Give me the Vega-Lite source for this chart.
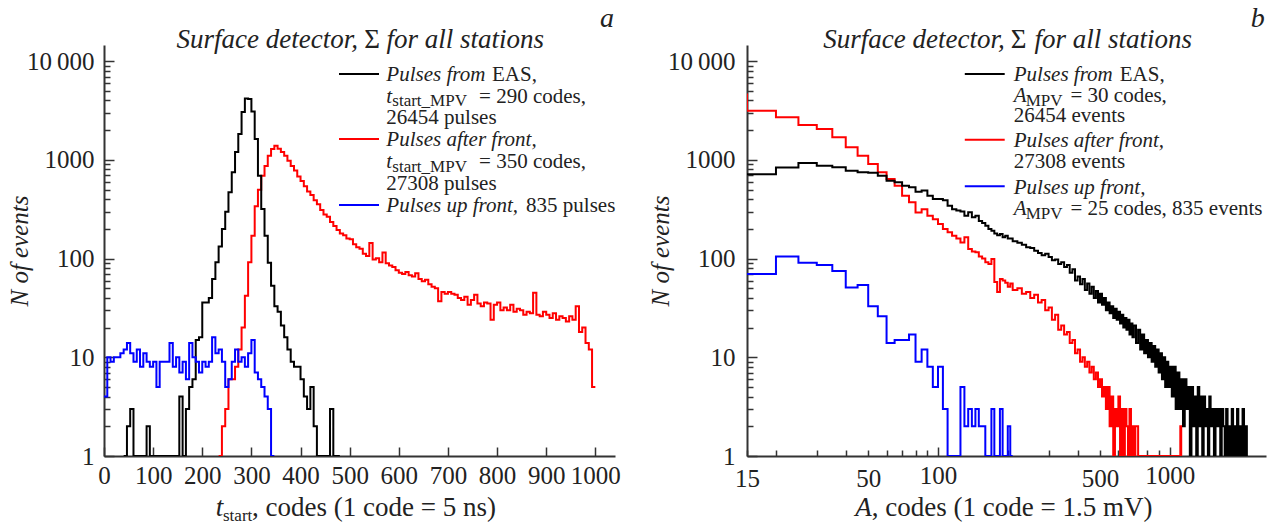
{
"$schema": "https://vega.github.io/schema/vega-lite/v6.json",
"background": "white",
"padding": {"left": 7, "top": 5, "right": 5, "bottom": 0},
"spacing": 27,
"config": {
  "view": {"stroke": null},
  "font": "'Liberation Serif', 'Times New Roman', 'DejaVu Serif', serif",
  "text": {"font": "'Liberation Serif', 'Times New Roman', 'DejaVu Serif', serif", "color": "#222", "align": "left", "baseline": "alphabetic", "fontSize": 21},
  "axis": {"domainColor": "#333", "domainWidth": 2, "tickColor": "#333", "tickWidth": 1.5, "labelFont": "'Liberation Serif', 'Times New Roman', 'DejaVu Serif', serif", "labelFontSize": 25, "labelColor": "#222", "grid": false, "labelFlush": false, "labelOverlap": false, "labelBound": false, "titleFont": "'Liberation Serif', 'Times New Roman', 'DejaVu Serif', serif", "titleFontSize": 25, "titleFontWeight": "normal", "titleFontStyle": "italic", "titleColor": "#222"}
},
"datasets": {
"L": [
{"s":"after","x":233.3,"n":1},{"s":"after","x":240,"n":2},{"s":"after","x":246.7,"n":3},{"s":"after","x":253.3,"n":6},{"s":"after","x":260,"n":6},{"s":"after","x":266.7,"n":8},{"s":"after","x":273.3,"n":12},{"s":"after","x":280,"n":20},{"s":"after","x":286.7,"n":42},{"s":"after","x":293.3,"n":92},{"s":"after","x":300,"n":170},{"s":"after","x":306.7,"n":340},{"s":"after","x":313.3,"n":500},{"s":"after","x":320,"n":690},{"s":"after","x":326.7,"n":870},{"s":"after","x":333.3,"n":1100},{"s":"after","x":340,"n":1290},{"s":"after","x":346.7,"n":1390},{"s":"after","x":353.3,"n":1300},{"s":"after","x":360,"n":1200},{"s":"after","x":366.7,"n":1100},{"s":"after","x":373.3,"n":980},{"s":"after","x":380,"n":870},{"s":"after","x":386.7,"n":780},{"s":"after","x":393.3,"n":680},{"s":"after","x":400,"n":610},{"s":"after","x":406.7,"n":540},{"s":"after","x":413.3,"n":480},{"s":"after","x":420,"n":440},{"s":"after","x":426.7,"n":390},{"s":"after","x":433.3,"n":355},{"s":"after","x":440,"n":310},{"s":"after","x":446.7,"n":280},{"s":"after","x":453.3,"n":265},{"s":"after","x":460,"n":235},{"s":"after","x":466.7,"n":214},{"s":"after","x":473.3,"n":195},{"s":"after","x":480,"n":180},{"s":"after","x":486.7,"n":172},{"s":"after","x":493.3,"n":160},{"s":"after","x":500,"n":157},{"s":"after","x":506.7,"n":140},{"s":"after","x":513.3,"n":130},{"s":"after","x":520,"n":126},{"s":"after","x":526.7,"n":112},{"s":"after","x":533.3,"n":106},{"s":"after","x":540,"n":144},{"s":"after","x":546.7,"n":98},{"s":"after","x":553.3,"n":101},{"s":"after","x":560,"n":92},{"s":"after","x":566.7,"n":115},{"s":"after","x":573.3,"n":90},{"s":"after","x":580,"n":85},{"s":"after","x":586.7,"n":82},{"s":"after","x":593.3,"n":76},{"s":"after","x":600,"n":72},{"s":"after","x":606.7,"n":70},{"s":"after","x":613.3,"n":73},{"s":"after","x":620,"n":68},{"s":"after","x":626.7,"n":66},{"s":"after","x":633.3,"n":71},{"s":"after","x":640,"n":62},{"s":"after","x":646.7,"n":59},{"s":"after","x":653.3,"n":61},{"s":"after","x":660,"n":55},{"s":"after","x":666.7,"n":52},{"s":"after","x":673.3,"n":50},{"s":"after","x":680,"n":37},{"s":"after","x":686.7,"n":46},{"s":"after","x":693.3,"n":44},{"s":"after","x":700,"n":46},{"s":"after","x":706.7,"n":44},{"s":"after","x":713.3,"n":43},{"s":"after","x":720,"n":40},{"s":"after","x":726.7,"n":38},{"s":"after","x":733.3,"n":41},{"s":"after","x":740,"n":34},{"s":"after","x":746.7,"n":38},{"s":"after","x":753.3,"n":43},{"s":"after","x":760,"n":35},{"s":"after","x":766.7,"n":33},{"s":"after","x":773.3,"n":36},{"s":"after","x":780,"n":35},{"s":"after","x":786.7,"n":24},{"s":"after","x":793.3,"n":34},{"s":"after","x":800,"n":36},{"s":"after","x":806.7,"n":30},{"s":"after","x":813.3,"n":32},{"s":"after","x":820,"n":30},{"s":"after","x":826.7,"n":34},{"s":"after","x":833.3,"n":29},{"s":"after","x":840,"n":31},{"s":"after","x":846.7,"n":30},{"s":"after","x":853.3,"n":27},{"s":"after","x":860,"n":29},{"s":"after","x":866.7,"n":28},{"s":"after","x":873.3,"n":45},{"s":"after","x":880,"n":27},{"s":"after","x":886.7,"n":26},{"s":"after","x":893.3,"n":29},{"s":"after","x":900,"n":27},{"s":"after","x":906.7,"n":25},{"s":"after","x":913.3,"n":28},{"s":"after","x":920,"n":24},{"s":"after","x":926.7,"n":26},{"s":"after","x":933.3,"n":25},{"s":"after","x":940,"n":23},{"s":"after","x":946.7,"n":26},{"s":"after","x":953.3,"n":24},{"s":"after","x":960,"n":33},{"s":"after","x":966.7,"n":18},{"s":"after","x":973.3,"n":20},{"s":"after","x":980,"n":14},{"s":"after","x":986.7,"n":12},{"s":"after","x":993.3,"n":5},{"s":"after","x":1000,"n":5},
{"s":"EAS","x":40,"n":1},{"s":"EAS","x":46.7,"n":2},{"s":"EAS","x":53.3,"n":3},{"s":"EAS","x":60,"n":1},{"s":"EAS","x":80,"n":1},{"s":"EAS","x":86.7,"n":2},{"s":"EAS","x":93.3,"n":1},{"s":"EAS","x":146.7,"n":1},{"s":"EAS","x":153.3,"n":4},{"s":"EAS","x":160,"n":1},{"s":"EAS","x":166.7,"n":3},{"s":"EAS","x":173.3,"n":5},{"s":"EAS","x":180,"n":6},{"s":"EAS","x":186.7,"n":15},{"s":"EAS","x":193.3,"n":16},{"s":"EAS","x":200,"n":36},{"s":"EAS","x":206.7,"n":36},{"s":"EAS","x":213.3,"n":40},{"s":"EAS","x":220,"n":62},{"s":"EAS","x":226.7,"n":92},{"s":"EAS","x":233.3,"n":133},{"s":"EAS","x":240,"n":200},{"s":"EAS","x":246.7,"n":298},{"s":"EAS","x":253.3,"n":470},{"s":"EAS","x":260,"n":750},{"s":"EAS","x":266.7,"n":1200},{"s":"EAS","x":273.3,"n":1830},{"s":"EAS","x":280,"n":3050},{"s":"EAS","x":286.7,"n":4200},{"s":"EAS","x":293.3,"n":4150},{"s":"EAS","x":300,"n":3100},{"s":"EAS","x":306.7,"n":1630},{"s":"EAS","x":313.3,"n":690},{"s":"EAS","x":320,"n":318},{"s":"EAS","x":326.7,"n":170},{"s":"EAS","x":333.3,"n":91},{"s":"EAS","x":340,"n":53},{"s":"EAS","x":346.7,"n":33},{"s":"EAS","x":353.3,"n":29},{"s":"EAS","x":360,"n":21},{"s":"EAS","x":366.7,"n":16},{"s":"EAS","x":373.3,"n":12},{"s":"EAS","x":380,"n":9},{"s":"EAS","x":386.7,"n":8},{"s":"EAS","x":393.3,"n":8},{"s":"EAS","x":400,"n":6},{"s":"EAS","x":406.7,"n":4},{"s":"EAS","x":413.3,"n":3},{"s":"EAS","x":420,"n":5},{"s":"EAS","x":426.7,"n":2},{"s":"EAS","x":433.3,"n":1},{"s":"EAS","x":460,"n":3},{"s":"EAS","x":466.7,"n":1},{"s":"EAS","x":480,"n":1},
{"s":"up","x":0,"n":4},{"s":"up","x":6.7,"n":10},{"s":"up","x":13.3,"n":9},{"s":"up","x":20,"n":10},{"s":"up","x":26.7,"n":10},{"s":"up","x":33.3,"n":11},{"s":"up","x":40,"n":12},{"s":"up","x":46.7,"n":14},{"s":"up","x":53.3,"n":11},{"s":"up","x":60,"n":9},{"s":"up","x":66.7,"n":12},{"s":"up","x":73.3,"n":8},{"s":"up","x":80,"n":11},{"s":"up","x":86.7,"n":9},{"s":"up","x":93.3,"n":8},{"s":"up","x":100,"n":9},{"s":"up","x":106.7,"n":5},{"s":"up","x":113.3,"n":9},{"s":"up","x":120,"n":9},{"s":"up","x":126.7,"n":9},{"s":"up","x":133.3,"n":14},{"s":"up","x":140,"n":8},{"s":"up","x":146.7,"n":10},{"s":"up","x":153.3,"n":7},{"s":"up","x":160,"n":9},{"s":"up","x":166.7,"n":6},{"s":"up","x":173.3,"n":14},{"s":"up","x":180,"n":10},{"s":"up","x":186.7,"n":9},{"s":"up","x":193.3,"n":7},{"s":"up","x":200,"n":9},{"s":"up","x":206.7,"n":8},{"s":"up","x":213.3,"n":9},{"s":"up","x":220,"n":16},{"s":"up","x":226.7,"n":11},{"s":"up","x":233.3,"n":12},{"s":"up","x":240,"n":9},{"s":"up","x":246.7,"n":5},{"s":"up","x":253.3,"n":6},{"s":"up","x":260,"n":9},{"s":"up","x":266.7,"n":12},{"s":"up","x":273.3,"n":9},{"s":"up","x":280,"n":10},{"s":"up","x":286.7,"n":8},{"s":"up","x":293.3,"n":11},{"s":"up","x":300,"n":15},{"s":"up","x":306.7,"n":7},{"s":"up","x":313.3,"n":6},{"s":"up","x":320,"n":5},{"s":"up","x":326.7,"n":4},{"s":"up","x":333.3,"n":3},{"s":"up","x":340,"n":1},{"s":"up","x":346.7,"n":1}
],
"R": [
{"s":"after","x":10,"n":4600},{"s":"after","x":15,"n":3150},{"s":"after","x":20,"n":2700},{"s":"after","x":25,"n":2260},{"s":"after","x":30,"n":2055},{"s":"after","x":35,"n":1694},{"s":"after","x":40,"n":1342},{"s":"after","x":45,"n":1105},{"s":"after","x":50,"n":908},{"s":"after","x":55,"n":748},{"s":"after","x":60,"n":640},{"s":"after","x":65,"n":548},{"s":"after","x":70,"n":434},{"s":"after","x":75,"n":372},{"s":"after","x":80,"n":294},{"s":"after","x":85,"n":317},{"s":"after","x":90,"n":272},{"s":"after","x":95,"n":250},{"s":"after","x":100,"n":224},{"s":"after","x":105,"n":199},{"s":"after","x":110,"n":185},{"s":"after","x":115,"n":170},{"s":"after","x":120,"n":160},{"s":"after","x":125,"n":146},{"s":"after","x":130,"n":165},{"s":"after","x":135,"n":125},{"s":"after","x":140,"n":118},{"s":"after","x":145,"n":116},{"s":"after","x":150,"n":105},{"s":"after","x":155,"n":100},{"s":"after","x":160,"n":92},{"s":"after","x":165,"n":88},{"s":"after","x":170,"n":99},{"s":"after","x":175,"n":58},{"s":"after","x":180,"n":46},{"s":"after","x":185,"n":62},{"s":"after","x":190,"n":60},{"s":"after","x":195,"n":57},{"s":"after","x":200,"n":52},{"s":"after","x":205,"n":56},{"s":"after","x":210,"n":48},{"s":"after","x":220,"n":50},{"s":"after","x":230,"n":44},{"s":"after","x":240,"n":46},{"s":"after","x":250,"n":40},{"s":"after","x":260,"n":43},{"s":"after","x":270,"n":36},{"s":"after","x":280,"n":38},{"s":"after","x":290,"n":30},{"s":"after","x":300,"n":32},{"s":"after","x":310,"n":24},{"s":"after","x":320,"n":27},{"s":"after","x":330,"n":19},{"s":"after","x":340,"n":21},{"s":"after","x":350,"n":17},{"s":"after","x":360,"n":18},{"s":"after","x":370,"n":14},{"s":"after","x":380,"n":15},{"s":"after","x":390,"n":11},{"s":"after","x":400,"n":12},{"s":"after","x":410,"n":9},{"s":"after","x":420,"n":10},{"s":"after","x":430,"n":8},{"s":"after","x":440,"n":9},{"s":"after","x":450,"n":7},{"s":"after","x":460,"n":8},{"s":"after","x":470,"n":6},{"s":"after","x":480,"n":7},{"s":"after","x":490,"n":5},{"s":"after","x":500,"n":6},{"s":"after","x":510,"n":4},{"s":"after","x":520,"n":5},{"s":"after","x":530,"n":3},{"s":"after","x":540,"n":5},{"s":"after","x":550,"n":2},{"s":"after","x":560,"n":4},{"s":"after","x":570,"n":1},{"s":"after","x":580,"n":3},{"s":"after","x":590,"n":2},{"s":"after","x":600,"n":4},{"s":"after","x":610,"n":1},{"s":"after","x":620,"n":3},{"s":"after","x":630,"n":1},{"s":"after","x":640,"n":3},{"s":"after","x":650,"n":2},{"s":"after","x":660,"n":1},{"s":"after","x":670,"n":3},{"s":"after","x":680,"n":1},{"s":"after","x":690,"n":2},{"s":"after","x":700,"n":1},{"s":"after","x":710,"n":2},{"s":"after","x":720,"n":2},{"s":"after","x":730,"n":1},{"s":"after","x":1110,"n":2},{"s":"after","x":1120,"n":1},
{"s":"EAS","x":15,"n":716},{"s":"EAS","x":20,"n":837},{"s":"EAS","x":25,"n":930},{"s":"EAS","x":30,"n":873},{"s":"EAS","x":35,"n":841},{"s":"EAS","x":40,"n":778},{"s":"EAS","x":45,"n":749},{"s":"EAS","x":50,"n":740},{"s":"EAS","x":55,"n":692},{"s":"EAS","x":60,"n":615},{"s":"EAS","x":65,"n":593},{"s":"EAS","x":70,"n":548},{"s":"EAS","x":75,"n":528},{"s":"EAS","x":80,"n":476},{"s":"EAS","x":85,"n":490},{"s":"EAS","x":90,"n":434},{"s":"EAS","x":95,"n":402},{"s":"EAS","x":100,"n":402},{"s":"EAS","x":105,"n":390},{"s":"EAS","x":110,"n":343},{"s":"EAS","x":115,"n":317},{"s":"EAS","x":120,"n":307},{"s":"EAS","x":125,"n":300},{"s":"EAS","x":130,"n":272},{"s":"EAS","x":135,"n":295},{"s":"EAS","x":140,"n":262},{"s":"EAS","x":145,"n":272},{"s":"EAS","x":150,"n":240},{"s":"EAS","x":155,"n":230},{"s":"EAS","x":160,"n":215},{"s":"EAS","x":165,"n":200},{"s":"EAS","x":170,"n":191},{"s":"EAS","x":175,"n":180},{"s":"EAS","x":180,"n":172},{"s":"EAS","x":185,"n":178},{"s":"EAS","x":190,"n":165},{"s":"EAS","x":195,"n":170},{"s":"EAS","x":200,"n":160},{"s":"EAS","x":210,"n":150},{"s":"EAS","x":220,"n":145},{"s":"EAS","x":230,"n":138},{"s":"EAS","x":240,"n":130},{"s":"EAS","x":250,"n":128},{"s":"EAS","x":260,"n":120},{"s":"EAS","x":270,"n":114},{"s":"EAS","x":280,"n":108},{"s":"EAS","x":290,"n":112},{"s":"EAS","x":300,"n":104},{"s":"EAS","x":310,"n":96},{"s":"EAS","x":320,"n":98},{"s":"EAS","x":330,"n":88},{"s":"EAS","x":340,"n":92},{"s":"EAS","x":350,"n":82},{"s":"EAS","x":360,"n":86},{"s":"EAS","x":370,"n":72},{"s":"EAS","x":380,"n":78},{"s":"EAS","x":390,"n":60},{"s":"EAS","x":400,"n":66},{"s":"EAS","x":410,"n":55},{"s":"EAS","x":420,"n":62},{"s":"EAS","x":430,"n":48},{"s":"EAS","x":440,"n":56},{"s":"EAS","x":450,"n":44},{"s":"EAS","x":460,"n":52},{"s":"EAS","x":470,"n":40},{"s":"EAS","x":480,"n":47},{"s":"EAS","x":490,"n":36},{"s":"EAS","x":500,"n":44},{"s":"EAS","x":510,"n":34},{"s":"EAS","x":520,"n":40},{"s":"EAS","x":530,"n":30},{"s":"EAS","x":540,"n":36},{"s":"EAS","x":550,"n":28},{"s":"EAS","x":560,"n":33},{"s":"EAS","x":570,"n":25},{"s":"EAS","x":580,"n":31},{"s":"EAS","x":590,"n":24},{"s":"EAS","x":600,"n":29},{"s":"EAS","x":610,"n":22},{"s":"EAS","x":620,"n":27},{"s":"EAS","x":630,"n":20},{"s":"EAS","x":640,"n":25},{"s":"EAS","x":650,"n":19},{"s":"EAS","x":660,"n":24},{"s":"EAS","x":670,"n":17},{"s":"EAS","x":680,"n":22},{"s":"EAS","x":690,"n":16},{"s":"EAS","x":700,"n":21},{"s":"EAS","x":715,"n":14},{"s":"EAS","x":730,"n":19},{"s":"EAS","x":745,"n":12},{"s":"EAS","x":760,"n":17},{"s":"EAS","x":775,"n":11},{"s":"EAS","x":790,"n":15},{"s":"EAS","x":805,"n":10},{"s":"EAS","x":820,"n":14},{"s":"EAS","x":835,"n":9},{"s":"EAS","x":850,"n":13},{"s":"EAS","x":865,"n":8},{"s":"EAS","x":880,"n":12},{"s":"EAS","x":895,"n":7},{"s":"EAS","x":910,"n":11},{"s":"EAS","x":925,"n":6},{"s":"EAS","x":940,"n":10},{"s":"EAS","x":955,"n":5},{"s":"EAS","x":970,"n":9},{"s":"EAS","x":985,"n":5},{"s":"EAS","x":1000,"n":8},{"s":"EAS","x":1020,"n":4},{"s":"EAS","x":1040,"n":8},{"s":"EAS","x":1060,"n":3},{"s":"EAS","x":1080,"n":7},{"s":"EAS","x":1100,"n":3},{"s":"EAS","x":1120,"n":6},{"s":"EAS","x":1140,"n":2},{"s":"EAS","x":1160,"n":6},{"s":"EAS","x":1180,"n":3},{"s":"EAS","x":1200,"n":5},{"s":"EAS","x":1220,"n":1},{"s":"EAS","x":1240,"n":5},{"s":"EAS","x":1260,"n":2},{"s":"EAS","x":1280,"n":4},{"s":"EAS","x":1300,"n":1},{"s":"EAS","x":1320,"n":5},{"s":"EAS","x":1340,"n":2},{"s":"EAS","x":1360,"n":4},{"s":"EAS","x":1380,"n":1},{"s":"EAS","x":1400,"n":4},{"s":"EAS","x":1420,"n":2},{"s":"EAS","x":1440,"n":3},{"s":"EAS","x":1460,"n":1},{"s":"EAS","x":1480,"n":4},{"s":"EAS","x":1500,"n":2},{"s":"EAS","x":1525,"n":3},{"s":"EAS","x":1550,"n":1},{"s":"EAS","x":1575,"n":3},{"s":"EAS","x":1600,"n":2},{"s":"EAS","x":1625,"n":3},{"s":"EAS","x":1650,"n":1},{"s":"EAS","x":1675,"n":3},{"s":"EAS","x":1700,"n":2},{"s":"EAS","x":1725,"n":1},{"s":"EAS","x":1750,"n":3},{"s":"EAS","x":1775,"n":1},{"s":"EAS","x":1800,"n":2},{"s":"EAS","x":1825,"n":1},{"s":"EAS","x":1850,"n":3},{"s":"EAS","x":1875,"n":1},{"s":"EAS","x":1900,"n":2},{"s":"EAS","x":1925,"n":1},{"s":"EAS","x":1950,"n":3},{"s":"EAS","x":1975,"n":1},{"s":"EAS","x":2000,"n":2},{"s":"EAS","x":2030,"n":1},{"s":"EAS","x":2060,"n":3},{"s":"EAS","x":2090,"n":1},{"s":"EAS","x":2120,"n":2},{"s":"EAS","x":2150,"n":1},
{"s":"up","x":15,"n":70},{"s":"up","x":20,"n":105},{"s":"up","x":25,"n":91},{"s":"up","x":30,"n":86},{"s":"up","x":35,"n":75},{"s":"up","x":40,"n":51},{"s":"up","x":45,"n":54},{"s":"up","x":50,"n":33},{"s":"up","x":55,"n":26},{"s":"up","x":60,"n":14},{"s":"up","x":65,"n":15},{"s":"up","x":70,"n":15},{"s":"up","x":75,"n":17},{"s":"up","x":80,"n":9},{"s":"up","x":85,"n":12},{"s":"up","x":90,"n":8},{"s":"up","x":95,"n":5},{"s":"up","x":100,"n":8},{"s":"up","x":105,"n":3},{"s":"up","x":110,"n":1},{"s":"up","x":120,"n":1},{"s":"up","x":125,"n":5},{"s":"up","x":130,"n":2},{"s":"up","x":135,"n":3},{"s":"up","x":140,"n":2},{"s":"up","x":145,"n":3},{"s":"up","x":150,"n":2},{"s":"up","x":155,"n":2},{"s":"up","x":160,"n":1},{"s":"up","x":165,"n":1},{"s":"up","x":170,"n":3},{"s":"up","x":175,"n":1},{"s":"up","x":180,"n":1},{"s":"up","x":185,"n":3},{"s":"up","x":190,"n":1},{"s":"up","x":195,"n":1},{"s":"up","x":200,"n":2},{"s":"up","x":205,"n":1},{"s":"up","x":210,"n":1}
]
},
"hconcat": [
{
 "width": 511, "height": 411,
 "layer": [
  {"data": {"name": "L"},
   "mark": {"type": "line", "interpolate": "step-after", "strokeWidth": 2, "clip": true},
   "encoding": {
    "x": {"field": "x", "type": "quantitative", "scale": {"domain": [0, 1040], "nice": false, "zero": false},
          "axis": {"values": [0,50,100,150,200,250,300,350,400,450,500,550,600,650,700,750,800,850,900,950,1000], "labelExpr": "datum.value % 100 == 0 ? format(datum.value, 'd') : ''", "tickSize": {"condition": {"test": "datum.value % 100 == 0", "value": -9}, "value": -6}, "labelPadding": 16, "title": null}},
    "y": {"field": "n", "type": "quantitative", "scale": {"type": "log", "domain": [1, 14600], "nice": false},
          "axis": {"values": [1,2,3,4,5,6,7,8,9,10,20,30,40,50,60,70,80,90,100,200,300,400,500,600,700,800,900,1000,2000,3000,4000,5000,6000,7000,8000,9000,10000], "labelExpr": "datum.value == 10000 ? '10\u2009000' : (indexof([1,10,100,1000], datum.value) >= 0 ? format(datum.value, 'd') : '')", "tickSize": {"condition": {"test": "indexof([1,10,100,1000,10000], datum.value) >= 0", "value": -10}, "value": -6}, "labelPadding": 20, "title": "N of events", "titlePadding": -6}},
    "color": {"field": "s", "type": "nominal", "scale": {"domain": ["EAS", "after", "up"], "range": ["#000000", "#ff0000", "#0000ff"]}, "legend": null}
   }},
  {"data": {"values": [{}]}, "mark": {"type": "text", "text": "Surface detector,", "fontSize": 27, "fontStyle": "italic", "align": "right"}, "encoding": {"x": {"datum": 517}, "y": {"datum": 13604}}},
  {"data": {"values": [{}]}, "mark": {"type": "text", "text": "Σ", "fontSize": 27, "align": "center"}, "encoding": {"x": {"datum": 545.5}, "y": {"datum": 13604}}},
  {"data": {"values": [{}]}, "mark": {"type": "text", "text": "for all stations", "fontSize": 27, "fontStyle": "italic"}, "encoding": {"x": {"datum": 575}, "y": {"datum": 13604}}},
  {"data": {"values": [{}]}, "mark": {"type": "text", "text": "a", "fontSize": 28, "fontStyle": "italic", "align": "center"}, "encoding": {"x": {"datum": 1023.8}, "y": {"datum": 22210}}},
  {"data": {"values": [{}]}, "mark": {"type": "rule", "color": "#000000", "strokeWidth": 2}, "encoding": {"x": {"datum": 478.3}, "x2": {"datum": 559.7}, "y": {"datum": 7419}}},
  {"data": {"values": [{}]}, "mark": {"type": "rule", "color": "#ff0000", "strokeWidth": 2}, "encoding": {"x": {"datum": 478.3}, "x2": {"datum": 559.7}, "y": {"datum": 1628}}},
  {"data": {"values": [{}]}, "mark": {"type": "rule", "color": "#0000ff", "strokeWidth": 2}, "encoding": {"x": {"datum": 478.3}, "x2": {"datum": 559.7}, "y": {"datum": 349}}},
  {"data": {"values": [{}]}, "mark": {"type": "text", "text": "Pulses from", "fontStyle": "italic"}, "encoding": {"x": {"datum": 574.6}, "y": {"datum": 6301}}},
  {"data": {"values": [{}]}, "mark": {"type": "text", "text": "EAS,"}, "encoding": {"x": {"datum": 789.7}, "y": {"datum": 6301}}},
  {"data": {"values": [{}]}, "mark": {"type": "text", "text": "t", "fontStyle": "italic"}, "encoding": {"x": {"datum": 574.6}, "y": {"datum": 3815}}},
  {"data": {"values": [{}]}, "mark": {"type": "text", "text": "start_MPV", "fontSize": 17}, "encoding": {"x": {"datum": 586.8}, "y": {"datum": 3516}}},
  {"data": {"values": [{}]}, "mark": {"type": "text", "text": "= 290 codes,"}, "encoding": {"x": {"datum": 763.3}, "y": {"datum": 3815}}},
  {"data": {"values": [{}]}, "mark": {"type": "text", "text": "26454 pulses"}, "encoding": {"x": {"datum": 574.6}, "y": {"datum": 2311}}},
  {"data": {"values": [{}]}, "mark": {"type": "text", "text": "Pulses after front,", "fontStyle": "italic"}, "encoding": {"x": {"datum": 574.6}, "y": {"datum": 1383}}},
  {"data": {"values": [{}]}, "mark": {"type": "text", "text": "t", "fontStyle": "italic"}, "encoding": {"x": {"datum": 574.6}, "y": {"datum": 828}}},
  {"data": {"values": [{}]}, "mark": {"type": "text", "text": "start_MPV", "fontSize": 17}, "encoding": {"x": {"datum": 586.8}, "y": {"datum": 763}}},
  {"data": {"values": [{}]}, "mark": {"type": "text", "text": "= 350 codes,"}, "encoding": {"x": {"datum": 763.3}, "y": {"datum": 828}}},
  {"data": {"values": [{}]}, "mark": {"type": "text", "text": "27308 pulses"}, "encoding": {"x": {"datum": 574.6}, "y": {"datum": 495.5}}},
  {"data": {"values": [{}]}, "mark": {"type": "text", "text": "Pulses up front,", "fontStyle": "italic"}, "encoding": {"x": {"datum": 574.6}, "y": {"datum": 296.6}}},
  {"data": {"values": [{}]}, "mark": {"type": "text", "text": "835 pulses"}, "encoding": {"x": {"datum": 859}, "y": {"datum": 296.6}}},
  {"data": {"values": [{}]}, "mark": {"type": "text", "text": "t", "fontSize": 27, "fontStyle": "italic"}, "encoding": {"x": {"datum": 227.4}, "y": {"datum": 0.245}}},
  {"data": {"values": [{}]}, "mark": {"type": "text", "text": "start", "fontSize": 17}, "encoding": {"x": {"datum": 242.2}, "y": {"datum": 0.2195}}},
  {"data": {"values": [{}]}, "mark": {"type": "text", "text": ", codes (1 code = 5 ns)", "fontSize": 27}, "encoding": {"x": {"datum": 301.2}, "y": {"datum": 0.245}}}
 ]
},
{
 "width": 519, "height": 411,
 "layer": [
  {"data": {"name": "R"},
   "mark": {"type": "line", "interpolate": "step-after", "strokeWidth": 2, "clip": true},
   "encoding": {
    "x": {"field": "x", "type": "quantitative", "scale": {"type": "log", "domain": [15, 2600], "nice": false},
          "axis": {"values": [15,20,30,40,50,60,70,80,90,100,200,300,400,500,600,700,800,900,1000,2000], "labelExpr": "indexof([15,50,100,500,1000], datum.value) >= 0 ? format(datum.value, 'd') : ''", "tickSize": {"condition": {"test": "indexof([100,1000], datum.value) >= 0", "value": -9}, "value": -6}, "labelPadding": 16, "title": null}},
    "y": {"field": "n", "type": "quantitative", "scale": {"type": "log", "domain": [1, 14600], "nice": false},
          "axis": {"values": [1,2,3,4,5,6,7,8,9,10,20,30,40,50,60,70,80,90,100,200,300,400,500,600,700,800,900,1000,2000,3000,4000,5000,6000,7000,8000,9000,10000], "labelExpr": "datum.value == 10000 ? '10\u2009000' : (indexof([1,10,100,1000], datum.value) >= 0 ? format(datum.value, 'd') : '')", "tickSize": {"condition": {"test": "indexof([1,10,100,1000,10000], datum.value) >= 0", "value": -10}, "value": -6}, "labelPadding": 22, "title": "N of events", "titlePadding": -6}},
    "color": {"field": "s", "type": "nominal", "scale": {"domain": ["EAS", "after", "up"], "range": ["#000000", "#ff0000", "#0000ff"]}, "legend": null}
   }},
  {"data": {"values": [{}]}, "mark": {"type": "text", "text": "Surface detector,", "fontSize": 27, "fontStyle": "italic", "align": "right"}, "encoding": {"x": {"datum": 194}, "y": {"datum": 13604}}},
  {"data": {"values": [{}]}, "mark": {"type": "text", "text": "Σ", "fontSize": 27, "align": "center"}, "encoding": {"x": {"datum": 222.9}, "y": {"datum": 13604}}},
  {"data": {"values": [{}]}, "mark": {"type": "text", "text": "for all stations", "fontSize": 27, "fontStyle": "italic"}, "encoding": {"x": {"datum": 261}, "y": {"datum": 13604}}},
  {"data": {"values": [{}]}, "mark": {"type": "text", "text": "b", "fontSize": 28, "fontStyle": "italic", "align": "center"}, "encoding": {"x": {"datum": 2395}, "y": {"datum": 22210}}},
  {"data": {"values": [{}]}, "mark": {"type": "rule", "color": "#000000", "strokeWidth": 2}, "encoding": {"x": {"datum": 130.5}, "x2": {"datum": 194}, "y": {"datum": 7419}}},
  {"data": {"values": [{}]}, "mark": {"type": "rule", "color": "#ff0000", "strokeWidth": 2}, "encoding": {"x": {"datum": 130.5}, "x2": {"datum": 194}, "y": {"datum": 1602}}},
  {"data": {"values": [{}]}, "mark": {"type": "rule", "color": "#0000ff", "strokeWidth": 2}, "encoding": {"x": {"datum": 130.5}, "x2": {"datum": 194}, "y": {"datum": 540}}},
  {"data": {"values": [{}]}, "mark": {"type": "text", "text": "Pulses from", "fontStyle": "italic"}, "encoding": {"x": {"datum": 212.2}, "y": {"datum": 6257}}},
  {"data": {"values": [{}]}, "mark": {"type": "text", "text": "EAS,"}, "encoding": {"x": {"datum": 608}, "y": {"datum": 6257}}},
  {"data": {"values": [{}]}, "mark": {"type": "text", "text": "A", "fontStyle": "italic"}, "encoding": {"x": {"datum": 212.2}, "y": {"datum": 3888}}},
  {"data": {"values": [{}]}, "mark": {"type": "text", "text": "MPV", "fontSize": 17}, "encoding": {"x": {"datum": 239}, "y": {"datum": 3493}}},
  {"data": {"values": [{}]}, "mark": {"type": "text", "text": "= 30 codes,"}, "encoding": {"x": {"datum": 372.8}, "y": {"datum": 3888}}},
  {"data": {"values": [{}]}, "mark": {"type": "text", "text": "26454 events"}, "encoding": {"x": {"datum": 212.2}, "y": {"datum": 2404}}},
  {"data": {"values": [{}]}, "mark": {"type": "text", "text": "Pulses after front,", "fontStyle": "italic"}, "encoding": {"x": {"datum": 212.2}, "y": {"datum": 1342}}},
  {"data": {"values": [{}]}, "mark": {"type": "text", "text": "27308 events"}, "encoding": {"x": {"datum": 212.2}, "y": {"datum": 822}}},
  {"data": {"values": [{}]}, "mark": {"type": "text", "text": "Pulses up front,", "fontStyle": "italic"}, "encoding": {"x": {"datum": 212.2}, "y": {"datum": 451}}},
  {"data": {"values": [{}]}, "mark": {"type": "text", "text": "A", "fontStyle": "italic"}, "encoding": {"x": {"datum": 212.2}, "y": {"datum": 278.5}}},
  {"data": {"values": [{}]}, "mark": {"type": "text", "text": "MPV", "fontSize": 17}, "encoding": {"x": {"datum": 239}, "y": {"datum": 250}}},
  {"data": {"values": [{}]}, "mark": {"type": "text", "text": "= 25 codes, 835 events"}, "encoding": {"x": {"datum": 372.8}, "y": {"datum": 278.5}}},
  {"data": {"values": [{}]}, "mark": {"type": "text", "text": "A", "fontSize": 27, "fontStyle": "italic"}, "encoding": {"x": {"datum": 44.0}, "y": {"datum": 0.245}}},
  {"data": {"values": [{}]}, "mark": {"type": "text", "text": ", codes (1 code = 1.5 mV)", "fontSize": 27}, "encoding": {"x": {"datum": 51.8}, "y": {"datum": 0.245}}}
 ]
}
]
}
